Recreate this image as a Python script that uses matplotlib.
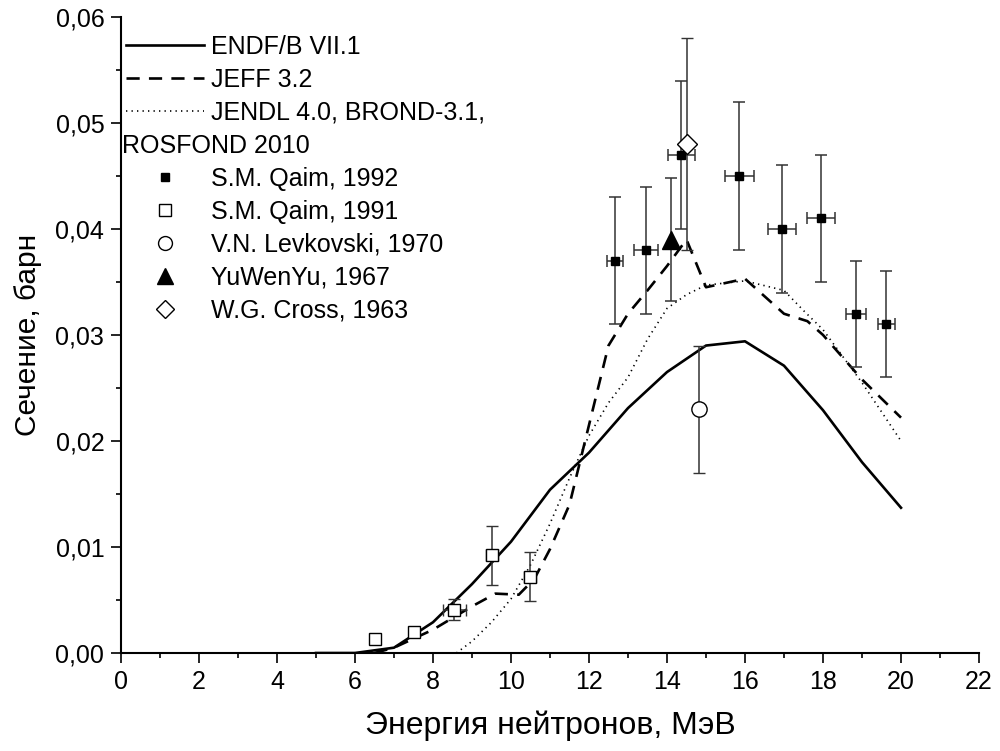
import matplotlib
matplotlib.use("Agg")
import matplotlib.pyplot as plt
from matplotlib.ticker import MultipleLocator, FuncFormatter
from matplotlib.lines import Line2D

plt.rcParams['font.family'] = ['Liberation Sans', 'DejaVu Sans']

# --- evaluated libraries ---
endf_E = [5, 6, 7, 8, 9, 10, 11, 12, 13, 14, 15, 16, 17, 18, 19, 20]
endf_s = [0, 0, 0.0005, 0.0029, 0.0065, 0.0105, 0.0154, 0.0189, 0.0231,
          0.0265, 0.0290, 0.0294, 0.0271, 0.0229, 0.0180, 0.0137]

jeff_E = [6.5, 7, 8, 9, 9.6, 10.2, 10.6, 11, 11.5, 12, 12.5, 13, 13.5,
          14, 14.5, 15, 16, 17, 17.6, 18, 19, 20]
jeff_s = [0, 0.0005, 0.0022, 0.0044, 0.0056, 0.0055, 0.0070, 0.0098, 0.0140,
          0.0215, 0.0290, 0.0320, 0.0342, 0.0365, 0.0390, 0.0345, 0.0353,
          0.0320, 0.0313, 0.0300, 0.0258, 0.0222]

jendl_E = [8.6, 9, 9.5, 10, 10.5, 11, 11.5, 12, 12.5, 13, 13.5, 14, 14.5,
           15, 16, 17, 17.5, 18, 19, 20]
jendl_s = [0, 0.0011, 0.0029, 0.0051, 0.0083, 0.0122, 0.0165, 0.0205, 0.0236,
           0.0260, 0.0296, 0.0325, 0.0338, 0.0347, 0.0351, 0.0342, 0.0323,
           0.0305, 0.0255, 0.0200]

# --- experiments ---
q92_E = [12.67, 13.46, 14.37, 15.85, 16.96, 17.95, 18.85, 19.62]
q92_s = [0.037, 0.038, 0.047, 0.045, 0.040, 0.041, 0.032, 0.031]
q92_dE = [0.21, 0.30, 0.35, 0.37, 0.36, 0.36, 0.26, 0.22]
q92_ds = [0.006, 0.006, 0.007, 0.007, 0.006, 0.006, 0.005, 0.005]

q91_E = [6.5, 7.52, 8.55, 9.52, 10.49]
q91_s = [0.0013, 0.0020, 0.0041, 0.0092, 0.0072]
q91_dE = [0.1, 0.1, 0.29, 0.15, 0.15]
q91_ds = [0.0003, 0.0003, 0.0010, 0.0028, 0.0023]

lev_E, lev_s, lev_ds = [14.83], [0.023], [0.006]
yu_E, yu_s, yu_ds = [14.1], [0.039], [0.0058]
cross_E, cross_s, cross_ds = [14.52], [0.048], [0.010]

fig = plt.figure(figsize=(10, 7.51), dpi=100)
ax = fig.add_axes([0.121, 0.1305, 0.858, 0.847])

ax.plot(endf_E, endf_s, color='black', lw=1.9, label='ENDF/B VII.1')
ax.plot(jeff_E, jeff_s, color='black', lw=1.9, dashes=(5, 3.5), label='JEFF 3.2')
ax.plot(jendl_E, jendl_s, color='black', lw=1.2, dashes=(0.8, 2.5),
        label='JENDL 4.0, BROND-3.1,')

ebar = dict(ecolor='#333333', elinewidth=1.1, capsize=4.3, capthick=1.1, ls='none', zorder=3)
ax.errorbar(q92_E, q92_s, xerr=q92_dE, yerr=q92_ds, fmt='s', ms=5.5,
            mfc='black', mec='black', **ebar)
ax.errorbar(q91_E, q91_s, xerr=q91_dE, yerr=q91_ds, fmt='s', ms=8.5,
            mfc='white', mec='black', mew=1.0, **ebar)
ax.errorbar(lev_E, lev_s, yerr=lev_ds, fmt='o', ms=11,
            mfc='white', mec='black', mew=1.0, **ebar)
ax.errorbar(yu_E, yu_s, yerr=yu_ds, fmt='^', ms=13,
            mfc='black', mec='black', **ebar)
ax.errorbar(cross_E, cross_s, yerr=cross_ds, fmt='D', ms=10,
            mfc='white', mec='black', mew=1.0, **ebar)

ax.set_xlim(0, 22)
ax.set_ylim(0, 0.06)
ax.xaxis.set_major_locator(MultipleLocator(2))
ax.xaxis.set_minor_locator(MultipleLocator(1))
ax.yaxis.set_major_locator(MultipleLocator(0.01))
ax.yaxis.set_minor_locator(MultipleLocator(0.005))
ax.yaxis.set_major_formatter(FuncFormatter(lambda v, p: f'{v:.2f}'.replace('.', ',')))
ax.tick_params(which='major', length=7, width=1.2, labelsize=18, pad=5)
ax.tick_params(which='minor', length=3.5, width=1.2)
for side in ['top', 'right']:
    ax.spines[side].set_visible(False)
for side in ['left', 'bottom']:
    ax.spines[side].set_linewidth(1.5)

ax.set_xlabel('Энергия нейтронов, МэВ', fontsize=23, labelpad=12)
ax.set_ylabel('Сечение, барн', fontsize=21.5, labelpad=10)

# legend
h = [Line2D([], [], color='black', lw=1.9),
     Line2D([], [], color='black', lw=1.9, dashes=(5, 3.5)),
     Line2D([], [], color='black', lw=1.2, dashes=(0.8, 2.5)),
     Line2D([], [], color='none'),
     Line2D([], [], ls='none', marker='s', ms=5.5, color='black'),
     Line2D([], [], ls='none', marker='s', ms=8, mfc='white', mec='black'),
     Line2D([], [], ls='none', marker='o', ms=10, mfc='white', mec='black'),
     Line2D([], [], ls='none', marker='^', ms=12, color='black'),
     Line2D([], [], ls='none', marker='D', ms=9, mfc='white', mec='black')]
labels = ['ENDF/B VII.1', 'JEFF 3.2', 'JENDL 4.0, BROND-3.1,', ' ',
          'S.M. Qaim, 1992', 'S.M. Qaim, 1991', 'V.N. Levkovski, 1970',
          'YuWenYu, 1967', 'W.G. Cross, 1963']
leg = ax.legend(h, labels, loc='upper left', bbox_to_anchor=(0.0, 0.98),
                frameon=False, fontsize=18, handlelength=3.1, handletextpad=0.3,
                labelspacing=0.36, borderaxespad=0.2, borderpad=0.0)

fig.canvas.draw()
bb = leg.get_texts()[3].get_window_extent()
yc = (bb.y0 + bb.y1) / 2 / fig.bbox.height
fig.text(0.122, yc, 'ROSFOND 2010', fontsize=18, va='center', ha='left')

fig.savefig('out.png', dpi=100)
